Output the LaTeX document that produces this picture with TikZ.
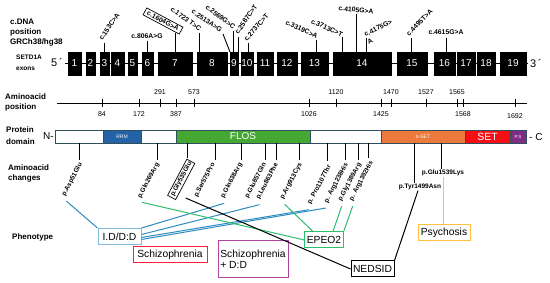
\documentclass[tikz,border=0pt]{standalone}
\usepackage{fontspec}
\setmainfont{Liberation Sans}
\usetikzlibrary{calc}
\definecolor{cblue}{HTML}{2E8BC0}
\definecolor{cgreen}{HTML}{2DBE6C}
\definecolor{cred}{HTML}{FF2040}
\definecolor{cmag}{HTML}{B0449E}
\definecolor{corange}{HTML}{FFC040}
\definecolor{cidbox}{HTML}{7FBCE0}
\definecolor{rrm}{HTML}{2462A6}
\definecolor{flos}{HTML}{45A832}
\definecolor{nset}{HTML}{EB7A3C}
\definecolor{setc}{HTML}{F50F14}
\definecolor{psc}{HTML}{7E2C84}
\definecolor{domline}{HTML}{2F4F5F}
\begin{document}
\begin{tikzpicture}[x=1pt,y=-1pt,
  exon/.style={fill=black,draw=black,inner sep=0pt,minimum height=23pt,text=white,font=\fontsize{10}{10}\selectfont},
  mut/.style={font=\fontsize{6.8}{7}\bfseries\selectfont,inner sep=0.5pt},
  pch/.style={font=\fontsize{6.5}{7}\bfseries\selectfont,inner sep=0.5pt,rotate=62,anchor=east},
  hdr/.style={font=\fontsize{8}{10}\bfseries\selectfont,align=left,anchor=west,inner sep=0pt},
  aa/.style={font=\fontsize{7}{7}\selectfont,inner sep=0pt},
  dom/.style={draw=domline,line width=0.6pt,inner sep=0pt,minimum height=13pt,text=white},
  pheno/.style={draw,line width=1pt,font=\fontsize{10.3}{11.5}\selectfont,inner sep=2pt,minimum height=16pt,fill=white},
  stem/.style={line width=0.9pt},
  conn/.style={line width=1pt}]
\useasboundingbox (0,0) rectangle (550,283);
\fill[white] (0,0) rectangle (550,283);

% ---- left headers
\node[hdr] (h1) at (10,33) {c.DNA\\position\\GRCh38/hg38};
\node[hdr,font=\fontsize{6.5}{10.5}\bfseries\selectfont] (h2) at (16,63) {SETD1A\\exons};
\node[hdr] (h3) at (5,102) {Aminoacid\\position};
\node[hdr,font=\fontsize{8}{12}\bfseries\selectfont] (h4) at (6,136) {Protein\\domain};
\node[hdr] (h5) at (8,173) {Aminoacid\\changes};
\node[hdr] (h6) at (12,237) {Phenotype};

% ---- exon track
\node[font=\fontsize{11}{11}\selectfont,inner sep=0pt] (p5) at (57,63) {5\,´};
\node[font=\fontsize{11}{11}\selectfont,inner sep=0pt] (p3) at (536,64) {3\,´};
\draw[line width=0.9pt] (65,63.5) -- (528,63.5);
\foreach \a/\b/\n in {68/81/1,86/95/2,100/109/3,111/124/4,128/137/5,142/153/6,158/192/7,197/227/8,230/238/9,241/253/10,257/273/11,277/297/12,301/328/13,333/391/14,397/427/15,434/455/16,457/475/17,477/495/18,500/526/19}{
  \pgfmathsetmacro\ew{\b-\a}
  \pgfmathsetmacro\ec{(\a+\b)/2}
  \node[exon,minimum width=\ew pt] (e\n) at (\ec,63.5) {\n};
}

% ---- cDNA variants
\node[mut,rotate=55,anchor=west] (m1) at (100,40) {c.153C>A};
\draw[stem] (104,43) -- (104,52);
\node[mut,anchor=base] (m2) at (147,39) {c.806A>G};
\draw[stem] (147,41) -- (147,52);
\node[mut,draw,rotate=-28,inner xsep=3pt,inner ysep=1.5pt,line width=0.7pt] (m3) at (163,21) {c.1604G>A};
\draw[stem] (175,33) -- (175,52);
\node[mut,rotate=-36,anchor=east] (m4) at (201,30) {c.1723 T>C};
\draw[stem] (199,33) -- (199,52);
\node[mut,rotate=-34,anchor=east] (m5) at (222,31) {c.2513A>G};
\draw[stem] (223,34) -- (230,52);
\node[mut,rotate=-37,anchor=east] (m6) at (235,28) {c.2569G>C};
\draw[stem] (233,31) -- (233,52);
\node[mut,rotate=55,anchor=west] (m7) at (236,34) {c.2587C>T};
\draw[stem] (238,37) -- (238,52);
\node[mut,rotate=50,anchor=west] (m8) at (245,41) {c.2737C>T};
\draw[stem] (248,43) -- (248,52);
\node[mut,rotate=-25,anchor=east] (m9) at (318,37) {c.3319C>A};
\draw[stem] (316,40) -- (316,52);
\node[mut,rotate=-24,anchor=east] (m10) at (343,35) {c.3713C>T};
\draw[stem] (342,37) -- (342,52);
\node[mut,rotate=-6] (m11) at (356,10) {c.4105G>A};
\draw[stem] (356,14) -- (356,52);
\node[mut,rotate=26,anchor=west] (m12) at (364,35) {c.4175G>};
\node[mut,rotate=26] (m12b) at (370,41) {A};
\draw[stem] (366,38) -- (366,52);
\node[mut,rotate=45,anchor=west] (m13) at (407,35) {c.4495T>A};
\draw[stem] (411,38) -- (411,52);
\node[mut,anchor=base] (m14) at (446,35) {c.4615G>A};
\draw[stem] (446,38) -- (446,52);

% ---- aminoacid position scale
\draw[line width=0.9pt] (57,103) -- (527,103);
\foreach \x in {102,139,160,176,194,309,336,381,391,426,457,463,515}{
  \draw[line width=0.9pt] (\x,99) -- (\x,107);
}
\foreach \x/\t in {160/291,194/573,336/1120,391/1470,426/1527,457/1565}{
  \node[aa] at (\x,92) {\t};
}
\foreach \x/\t in {102/84,139/172,176/387,309/1026,381/1425,463/1568}{
  \node[aa] at (\x,114) {\t};
}
\node[aa] at (515,116) {1692};

% ---- protein domains
\node[font=\fontsize{10}{10}\selectfont,inner sep=0pt,anchor=east] (nt) at (54,136.5) {N-};
\node[dom,fill=white,minimum width=48pt] (d1) at (79,136.5) {};
\node[dom,fill=rrm,minimum width=38pt,font=\fontsize{5}{5}\selectfont] (d2) at (122,136.5) {RRM};
\node[dom,fill=white,minimum width=35pt] (d3) at (158.5,136.5) {};
\node[dom,fill=flos,minimum width=134pt,font=\fontsize{10}{10}\selectfont] (d4) at (243,136.5) {FLOS};
\node[dom,fill=white,minimum width=71pt] (d5) at (345.5,136.5) {};
\node[dom,fill=nset,minimum width=84pt,font=\fontsize{5}{5}\selectfont] (d6) at (423,136.5) {n-SET};
\node[dom,fill=setc,minimum width=45pt,font=\fontsize{10.5}{10}\selectfont] (d7) at (487.5,136.5) {SET};
\node[dom,fill=psc,minimum width=16pt,font=\fontsize{4.5}{5}\selectfont] (d8) at (518,136.5) {P.S};
\node[font=\fontsize{10}{10}\selectfont,inner sep=0pt,anchor=west] (ct) at (529,137) {- C};

% ---- amino acid changes
\node[pch] (a1) at (81,163) {p.Asp51Glu};
\node[pch] (a2) at (158,163) {p.Gln269Arg};
\node[pch,draw,line width=0.7pt,inner sep=1.5pt] (a3) at (191,161) {p.Gly535Glu};
\node[pch] (a4) at (214,163) {p.Ser575Pro};
\node[pch] (a5) at (241,163) {p.Gln638Arg};
\node[pch] (a6) at (265,163) {p.Glu857Gln};
\node[pch] (a7) at (277,163) {p.Leu863Phe};
\node[pch] (a8) at (301,163) {p.Arg913Cys};
\node[pch] (a9) at (330,165) {p. Pro1107Thr};
\node[pch] (a10) at (347,163) {p. Arg1238His};
\node[pch] (a11) at (360,163) {p.Gly1389Arg};
\node[pch] (a12) at (372,161) {p. Arg1392His};
\node[font=\fontsize{6.5}{7}\bfseries\selectfont,inner sep=0.5pt] (a13) at (420,187) {p.Tyr1499Asn};
\node[font=\fontsize{6.5}{7}\bfseries\selectfont,inner sep=0.5pt] (a14) at (443,173) {p.Glu1539Lys};
\foreach \x/\y in {79/160,157/160,187/158,215/160,241/160,265/160,276/160,299/160,327/161,345/160,358/160,368/158,414/183,441/169}{
  \draw[stem] (\x,143) -- (\x,\y);
}

% ---- phenotypes
\node[pheno,draw=cidbox,minimum width=43pt] (pid) at (119.5,236.5) {I.D/D:D};
\node[pheno,draw=cred,minimum width=74pt] (psz) at (170,255) {Schizophrenia};
\node[pheno,draw=cmag,minimum width=70pt,minimum height=37pt,align=left] (pszd) at (253,259.5) {Schizophrenia\\+ D:D};
\node[pheno,draw=cgreen,minimum width=38pt] (pep) at (324,240) {EPEO2};
\node[pheno,draw=black,minimum width=43pt] (pne) at (372.5,269) {NEDSID};
\node[pheno,draw=corange,minimum width=52pt] (pps) at (444,233) {Psychosis};

% ---- connectors
\draw[conn,cblue] ($(a1.west)+(3,5)$) -- (pid.north west);
\draw[conn,cblue] (pid.north east) -- ($(a5.west)+(2,5)$);
\draw[conn,cblue] ($(pid.east)+(0,-2)$) -- ($(a7.west)+(2,5)$);
\draw[conn,cblue] ($(pid.east)+(0,1)$) -- ($(a9.west)+(0,5)$);
\draw[conn,cblue] ($(pid.east)+(0,3)$) -- ($(a10.west)+(0,5)$);
\draw[conn,cgreen] ($(a2.west)+(3,4)$) -- (pep.west);
\draw[conn,cgreen] ($(a8.west)+(3,5)$) -- ($(pep.north)+(-11,0)$);
\draw[conn,cgreen] ($(a11.west)+(2,5)$) -- ($(pep.north)+(9,0)$);
\draw[conn,cgreen] ($(a12.west)+(2,5)$) -- (pep.north east);
\draw[conn,black] ($(a3.south west)+(10,-2)$) -- (pne.west);
\draw[conn,black] ($(a13.south)+(-2,0)$) -- (pne.north east);
\draw[conn,cred] ($(a4.west)+(1,3)$) -- ($(a4.west)+(1,3)$ |- psz.north);
\draw[conn,cmag] ($(a6.west)+(-2,3)$) -- ($(a6.west)+(-2,3)$ |- pszd.north);
\draw[conn,corange] (a14.south) -- (a14.south |- pps.north);
\end{tikzpicture}
\end{document}
